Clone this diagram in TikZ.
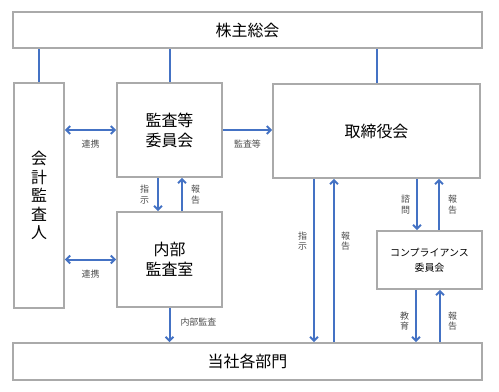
\documentclass[tikz,border=0pt]{standalone}
\usepackage{fontspec}
\setmainfont{Noto Sans CJK JP}
\usetikzlibrary{positioning,arrows.meta}
\definecolor{linkblue}{RGB}{68,114,196}
\definecolor{boxgray}{RGB}{170,170,170}

\begin{document}
\begin{tikzpicture}[x=1bp, y=-1bp,
    box/.style={draw=boxgray, line width=1.6bp, fill=white, inner sep=0pt, align=center, font=\fontsize{16}{20}\selectfont},
    link/.style={draw=linkblue, line width=2bp},
    map/.style={link, {Straight Barb[length=4bp,width=8bp]}-{Straight Barb[length=4bp,width=8bp]}},
    same/.style={link, -{Straight Barb[length=4bp,width=8bp]}},
    lbl/.style={text=black!70, font=\fontsize{9}{10.5}\selectfont, align=center, inner sep=1bp}
]
    \useasboundingbox (0,0) rectangle (499,391);

    % Boxes
    \node[box, minimum width=469bp, minimum height=36bp] (gm) at (247.5,30) {株主総会};
    \node[box, minimum width=50bp, minimum height=225bp, font=\fontsize{16}{18.5}\selectfont] (acc) at (39,195.5) {会\\計\\監\\査\\人};
    \node[box, minimum width=105bp, minimum height=94bp] (aud) at (169.5,130) {監査等\\委員会};
    \node[box, minimum width=105bp, minimum height=95bp] (ia) at (169.5,259.5) {内部\\監査室};
    \node[box, minimum width=207bp, minimum height=94bp] (bd) at (376.5,131) {取締役会};
    \node[box, minimum width=105bp, minimum height=58bp, font=\fontsize{10}{15}\selectfont] (cc) at (429.5,260) {コンプライアンス\\委員会};
    \node[box, minimum width=469bp, minimum height=37bp] (dep) at (247.5,361.5) {当社各部門};

    % Lines from the general meeting
    \draw[link] (acc.north) -- (acc.north |- gm.south);
    \draw[link] (aud.north) -- (aud.north |- gm.south);
    \draw[link] (bd.north) -- (bd.north |- gm.south);

    % Cooperation arrows
    \draw[map] (acc.east |- aud.west) -- node[lbl, below=8bp] (coop1) {連携} (aud.west);
    \draw[map] (acc.east |- ia.west) -- node[lbl, below=8bp] (coop2) {連携} (ia.west);

    % Audit committee to board
    \draw[same] (aud.east) -- node[lbl, below=8bp] (audrep) {監査等} (aud.east -| bd.west);

    % Audit committee and internal audit
    \draw[same] ([xshift=-11.5bp]aud.south) -- node[lbl, left=7bp] (iainst) {指\\示} ([xshift=-11.5bp]aud.south |- ia.north);
    \draw[same] ([xshift=12.5bp]aud.south |- ia.north) -- node[lbl, right=7bp] (iarep) {報\\告} ([xshift=12.5bp]aud.south);
    \draw[same] (ia.south) -- node[lbl, right=9bp, pos=0.42] (iaaudit) {内部監査} (ia.south |- dep.north);

    % Board and departments
    \draw[same] ([xshift=-62.5bp]bd.south) -- node[lbl, pos=0.38, left=5bp] (bdinst) {指\\示} ([xshift=-62.5bp]bd.south |- dep.north);
    \draw[same] ([xshift=-42.5bp]bd.south |- dep.north) -- node[lbl, pos=0.62, right=5bp] (bdrep) {報\\告} ([xshift=-42.5bp]bd.south);

    % Board and compliance committee
    \draw[same] ([xshift=-12.5bp]cc.north |- bd.south) -- node[lbl, left=5bp] (ccask) {諮\\問} ([xshift=-12.5bp]cc.north);
    \draw[same] ([xshift=9.5bp]cc.north) -- node[lbl, right=7bp] (ccrep) {報\\告} ([xshift=9.5bp]cc.north |- bd.south);

    % Compliance committee and departments
    \draw[same] ([xshift=-13.5bp]cc.south) -- node[lbl, pos=0.6, left=5bp] (ccedu) {教\\育} ([xshift=-13.5bp]cc.south |- dep.north);
    \draw[same] ([xshift=10.5bp]cc.south |- dep.north) -- node[lbl, pos=0.4, right=6bp] (deprep) {報\\告} ([xshift=10.5bp]cc.south);
\end{tikzpicture}
\end{document}
